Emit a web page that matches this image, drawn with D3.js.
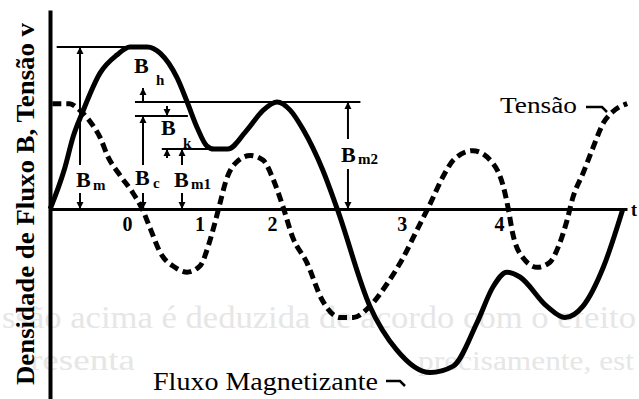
<!DOCTYPE html>
<html>
<head>
<meta charset="utf-8">
<script src="https://cdn.jsdelivr.net/npm/d3@7"></script>
<style>
  html, body { margin: 0; padding: 0; background: #fff; overflow: hidden; }
  svg { display: block; }
  text { font-family: "Liberation Serif", "DejaVu Serif", serif; }
</style>
</head>
<body>
<svg id="chart" width="639" height="399"></svg>
<script>
// Magnetising flux (solid curve): time t, flux density B
const fluxT = [-1.06, -0.86, -0.74, -0.62, -0.37, -0.14, 0.04, 0.28, 0.46, 0.69, 0.83, 0.97, 1.10, 1.20,
               1.39, 1.66, 1.88, 2.07, 2.25, 2.43, 2.70, 2.90, 3.35, 3.72, 4.18, 4.50, 4.83, 5.05,
               5.24, 5.42, 5.79, 6.04, 6.29, 6.57, 6.84];
const fluxB = [0.00, 0.25, 0.45, 0.59, 0.84, 0.95, 1.00, 1.00, 0.96, 0.81, 0.66, 0.50, 0.39, 0.37,
               0.37, 0.49, 0.61, 0.66, 0.61, 0.49, 0.24, 0.00, -0.60, -0.87, -1.01, -0.97, -0.70, -0.48,
               -0.39, -0.42, -0.60, -0.67, -0.60, -0.36, 0.00];

// Voltage (dashed curve): time t, voltage v (same vertical scale)
const voltT = [-1.03, -0.79, -0.68, -0.51, -0.37, -0.26, -0.10, 0.08, 0.22, 0.32, 0.46, 0.66, 0.83,
               1.01, 1.12, 1.21, 1.28, 1.37, 1.49, 1.70, 1.88, 2.01, 2.14, 2.29, 2.48, 2.69, 2.94,
               3.12, 3.35, 3.59, 3.81, 4.00, 4.18, 4.36, 4.50, 4.77, 5.05, 5.19, 5.26, 5.32, 5.46,
               5.66, 5.83, 5.97, 6.07, 6.15, 6.29, 6.43, 6.57, 6.70, 6.90];
const voltV = [0.65, 0.65, 0.62, 0.54, 0.44, 0.32, 0.21, 0.10, -0.01, -0.12, -0.27, -0.36, -0.39,
               -0.35, -0.23, -0.09, 0.03, 0.18, 0.28, 0.33, 0.30, 0.19, 0.03, -0.18, -0.33, -0.56, -0.67,
               -0.67, -0.60, -0.46, -0.30, -0.13, 0.03, 0.20, 0.30, 0.36, 0.28, 0.14, 0.00, -0.15, -0.30,
               -0.36, -0.33, -0.21, -0.07, 0.07, 0.22, 0.38, 0.53, 0.60, 0.65];

// Time axis labels
const tickValues = [0, 1, 2, 3.79, 5.13];
const tickLabels = ["0", "1", "2", "3", "4"];

// Flux levels marked with dimension arrows
const levelNames  = ["Bm", "Bm2", "Bc", "Bm1"];
const levelValues = [1.00, 0.66, 0.574, 0.37];
const level = name => levelValues[levelNames.indexOf(name)];

const svg = d3.select("#chart");
const x = d3.scaleLinear().domain([-1.062, 6.897]).range([50, 627]);
const y = d3.scaleLinear().domain([-1.173, 1.228]).range([399, 10]);

// faint show-through of the printed page behind the figure
const ghost = svg.append("g").attr("fill", "#e6e6e6");
ghost.append("text").attr("x", 2).attr("y", 328).attr("font-size", 31)
  .attr("textLength", 634).attr("lengthAdjust", "spacingAndGlyphs")
  .text("ssão acima é deduzida de acordo com o efeito");
ghost.append("text").attr("x", 30).attr("y", 370).attr("font-size", 30)
  .attr("textLength", 105).attr("lengthAdjust", "spacingAndGlyphs")
  .text("resenta");
ghost.append("text").attr("x", 418).attr("y", 370).attr("font-size", 28)
  .attr("textLength", 216).attr("lengthAdjust", "spacingAndGlyphs")
  .text("precisamente, est");

// axes
svg.append("g").attr("transform", `translate(${x.range()[0]},0)`)
  .call(d3.axisLeft(y).tickValues([]).tickSizeOuter(0))
  .call(g => g.select(".domain").attr("stroke", "#000").attr("stroke-width", 4));

svg.append("g").attr("transform", `translate(0,${y(0)})`)
  .call(d3.axisBottom(x).tickValues(tickValues).tickFormat((d, i) => tickLabels[i]).tickSize(0).tickPadding(8))
  .call(g => g.select(".domain").attr("stroke", "#000").attr("stroke-width", 3))
  .call(g => g.selectAll("text").attr("font-family", "Liberation Serif, serif")
    .attr("font-size", 20).attr("font-weight", "bold").attr("fill", "#000"));

svg.append("text").attr("x", 631).attr("y", y(0) + 7)
  .attr("font-size", 18).attr("font-weight", "bold").text("t");

// curves
const fluxData = fluxT.map((t, i) => [t, fluxB[i]]);
const voltData = voltT.map((t, i) => [t, voltV[i]]);
const line = d3.line().x(d => x(d[0])).y(d => y(d[1])).curve(d3.curveMonotoneX);

svg.append("path").datum(voltData).attr("d", line)
  .attr("fill", "none").attr("stroke", "#000").attr("stroke-width", 5)
  .attr("stroke-dasharray", "9,5");

svg.append("path").datum(fluxData).attr("d", line)
  .attr("fill", "none").attr("stroke", "#000").attr("stroke-width", 5)
  .attr("stroke-linejoin", "round");

// dimension lines
const dim = svg.append("g").attr("stroke", "#000").attr("stroke-width", 2);
const head = (px, py, dir) => {
  const s = dir === "up" ? 1 : -1;
  svg.append("path")
    .attr("d", `M${px},${py} L${px - 3.5},${py + 7 * s} L${px + 3.5},${py + 7 * s} Z`)
    .attr("fill", "#000");
};
const hline = (t0, t1, v) => dim.append("line")
  .attr("x1", x(t0)).attr("x2", x(t1)).attr("y1", y(v)).attr("y2", y(v));
const vseg = (t, py0, py1) => dim.append("line")
  .attr("x1", x(t)).attr("x2", x(t)).attr("y1", py0).attr("y2", py1);

// reference levels
hline(-0.97, 0.10, level("Bm"));
hline(0.11, 3.22, level("Bm2"));
hline(0.11, 0.84, level("Bc"));
hline(0.48, 1.17, level("Bm1"));

// B_m
const tBm = -0.648;
vseg(tBm, y(level("Bm")), 165); vseg(tBm, 193, y(0));
head(x(tBm), y(level("Bm")), "up"); head(x(tBm), y(0), "down");
// B_h
const tBh = 0.221;
vseg(tBh, y(level("Bm2")), y(level("Bm2")) - 14);
head(x(tBh), y(level("Bm2")) - 14, "up");
// B_c
vseg(tBh, y(level("Bc")), 165); vseg(tBh, 193, y(0));
head(x(tBh), y(level("Bc")), "up"); head(x(tBh), y(0), "down");
// B_k
const tBk = 0.552;
vseg(tBk, y(level("Bc")) - 10, y(level("Bc")));
head(x(tBk), y(level("Bc")), "down");
vseg(tBk, y(level("Bm1")), y(level("Bm1")) + 9);
head(x(tBk), y(level("Bm1")), "up");
// B_m1
const tBm1 = 0.759;
vseg(tBm1, y(level("Bm1")), 165); vseg(tBm1, 193, y(0));
head(x(tBm1), y(level("Bm1")), "up"); head(x(tBm1), y(0), "down");
// B_m2
const tBm2 = 3.048;
vseg(tBm2, y(level("Bm2")), 139); vseg(tBm2, 169, y(0));
head(x(tBm2), y(level("Bm2")), "up"); head(x(tBm2), y(0), "down");

// symbol labels
const sym = (px, py, sub, sx, sy) => {
  svg.append("text").attr("x", px).attr("y", py)
    .attr("font-size", 22).attr("font-weight", "bold").text("B");
  svg.append("text").attr("x", sx).attr("y", sy)
    .attr("font-size", 15).attr("font-weight", "bold").text(sub);
};
sym(76, 187, "m", 93, 190);
sym(134, 73, "h", 156, 85);
sym(161, 135, "k", 183, 148);
sym(135, 185, "c", 153, 188);
sym(174, 187, "m1", 191, 189);
sym(341, 162, "m2", 358, 164);

// curve captions
svg.append("text").attr("x", 500).attr("y", 113)
  .attr("font-size", 24).attr("textLength", 77).attr("lengthAdjust", "spacingAndGlyphs")
  .text("Tensão");
svg.append("path").attr("d", "M586,107 H602 L607,112")
  .attr("fill", "none").attr("stroke", "#000").attr("stroke-width", 2.5);

svg.append("text").attr("x", 153).attr("y", 390)
  .attr("font-size", 25).attr("textLength", 225).attr("lengthAdjust", "spacingAndGlyphs")
  .text("Fluxo Magnetizante");
svg.append("path").attr("d", "M386,381 H400 L405,386")
  .attr("fill", "none").attr("stroke", "#000").attr("stroke-width", 2.5);

// vertical axis title
svg.append("text")
  .attr("transform", "translate(34,385) rotate(-90)")
  .attr("font-size", 26).attr("font-weight", "bold")
  .attr("textLength", 362).attr("lengthAdjust", "spacingAndGlyphs")
  .text("Densidade de Fluxo B, Tensão v");
</script>
</body>
</html>
